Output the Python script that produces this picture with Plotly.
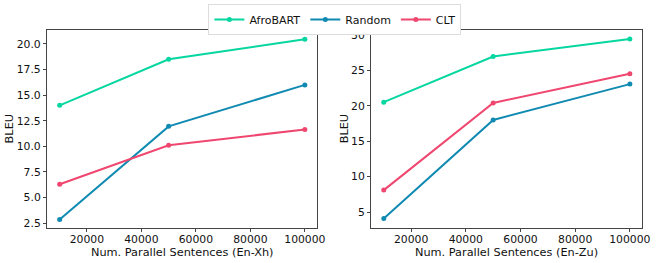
import plotly.graph_objects as go

sentences = [10000, 50000, 100000]
series_names = ["AfroBART", "Random", "CLT"]
colors = ["#06d6a0", "#118ab2", "#ef476f"]

xh_afrobart = [14.0, 18.5, 20.45]
xh_random = [2.85, 11.95, 16.0]
xh_clt = [6.3, 10.1, 11.65]

zu_afrobart = [20.5, 26.95, 29.4]
zu_random = [4.1, 18.0, 23.05]
zu_clt = [8.1, 20.4, 24.5]

xh_values = [xh_afrobart, xh_random, xh_clt]
zu_values = [zu_afrobart, zu_random, zu_clt]

x_titles = ["Num. Parallel Sentences (En-Xh)", "Num. Parallel Sentences (En-Zu)"]
y_title = "BLEU"

W, H = 664, 263
font = "DejaVu Sans"

fig = go.Figure()
for name, col, yv in zip(series_names, colors, xh_values):
    fig.add_trace(go.Scatter(x=sentences, y=yv, mode="lines+markers", name=name,
                             line=dict(color=col, width=2), marker=dict(color=col, size=5),
                             xaxis="x", yaxis="y"))
for name, col, yv in zip(series_names, colors, zu_values):
    fig.add_trace(go.Scatter(x=sentences, y=yv, mode="lines+markers", name=name,
                             line=dict(color=col, width=2), marker=dict(color=col, size=5),
                             xaxis="x2", yaxis="y2", showlegend=False))

frame = dict(showline=True, linecolor="#444", linewidth=1, mirror=True, showgrid=False,
             zeroline=False, ticks="outside", ticklen=3.5, tickcolor="#444",
             tickfont=dict(family=font, size=10.8, color="#111"))
xframe = dict(frame, ticklabelstandoff=-2)

ydom = [1 - 229.5 / H, 1 - 29 / H]
xt = [20000, 40000, 60000, 80000, 100000]
fig.update_layout(
    width=W, height=H, margin=dict(l=0, r=0, t=0, b=0),
    plot_bgcolor="white", paper_bgcolor="white",
    font=dict(family=font, size=11, color="#111"),
    xaxis=dict(domain=[48 / W, 321 / W], range=[5500, 104500], tickvals=xt,
               ticktext=[str(v) for v in xt], anchor="y", **xframe),
    yaxis=dict(domain=ydom, range=[2.04, 21.39], tickvals=[2.5, 5, 7.5, 10, 12.5, 15, 17.5, 20],
               ticktext=["2.5", "5.0", "7.5", "10.0", "12.5", "15.0", "17.5", "20.0"], anchor="x", **frame),
    xaxis2=dict(domain=[376 / W, 650 / W], range=[5500, 104500], tickvals=xt,
                ticktext=[str(v) for v in xt], anchor="y2", **xframe),
    yaxis2=dict(domain=ydom, range=[2.77, 30.73], tickvals=[5, 10, 15, 20, 25, 30], anchor="x2", **frame),
    legend=dict(orientation="h", x=0.5105, xanchor="center", y=1 - 3 / H, yanchor="top",
                bordercolor="#ddd", borderwidth=1, bgcolor="white",
                font=dict(family=font, size=11, color="#111"), itemwidth=30,
                tracegroupgap=0),
)

title_font = dict(family=font, size=11.3, color="#111")
for i, (x0, x1) in enumerate([(48, 321), (376, 650)]):
    fig.add_annotation(text=x_titles[i], xref="paper", yref="paper", x=(x0 + x1) / 2 / W, y=1 - 254.5 / H,
                       showarrow=False, font=title_font, xanchor="center", yanchor="middle", borderpad=0)
for xp in [10, 349]:
    fig.add_annotation(text=y_title, xref="paper", yref="paper", x=xp / W, y=1 - 129 / H, textangle=-90,
                       showarrow=False, font=title_font, xanchor="center", yanchor="middle", borderpad=0)

fig.write_html("out.html", config={"displayModeBar": False},
               post_script="document.body.style.margin='0';document.body.style.padding='0';")
